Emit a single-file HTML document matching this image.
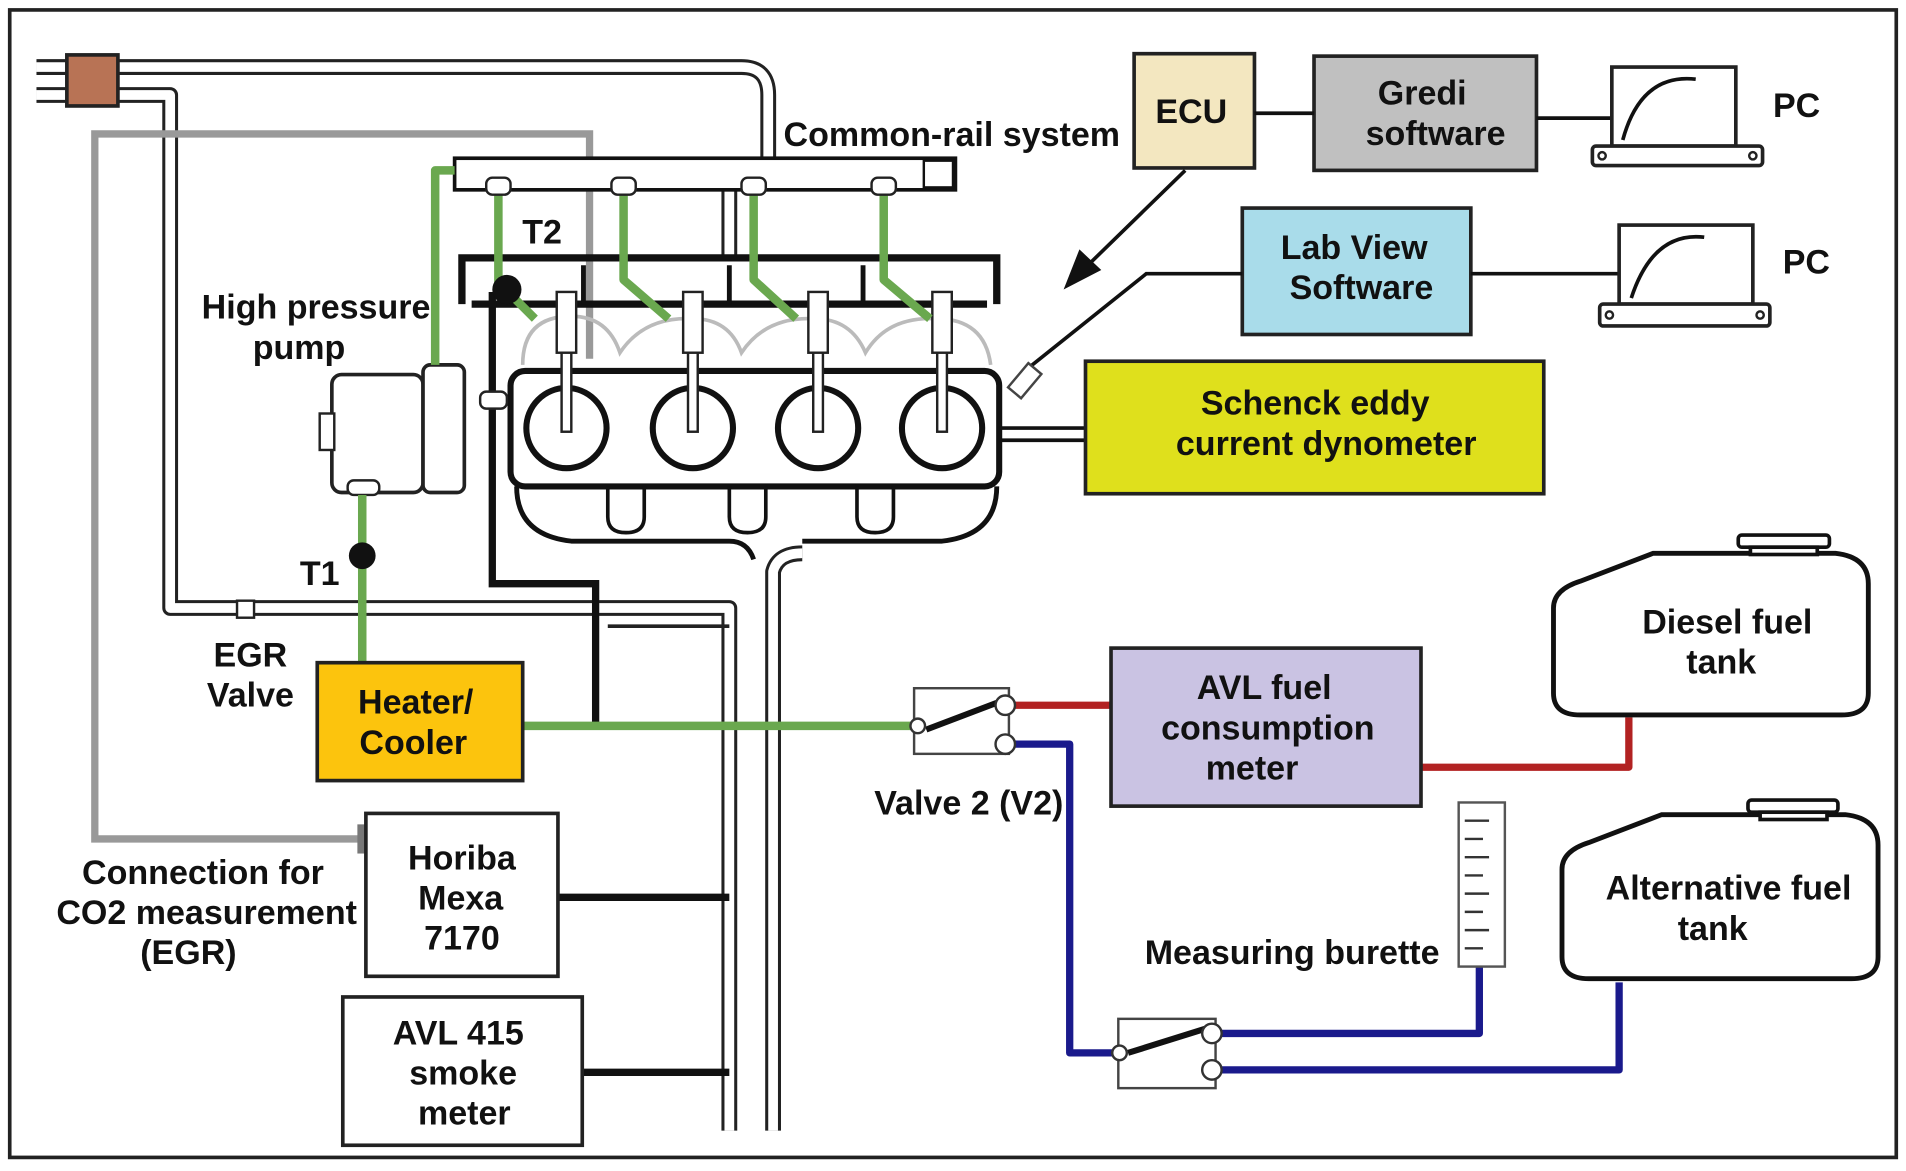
<!DOCTYPE html>
<html><head><meta charset="utf-8"><style>
html,body{margin:0;padding:0;background:#fff}
svg{display:block}
text{font-family:"Liberation Sans",Arial,sans-serif;font-weight:bold;font-size:28px;fill:#111}
</style></head><body>
<svg width="1906" height="1171" viewBox="0 0 1568 963" xmlns="http://www.w3.org/2000/svg">
<rect x="0" y="0" width="1568" height="963" fill="#fff"/>
<rect x="8" y="8" width="1552" height="944" fill="none" stroke="#222" stroke-width="3"/>

<g fill="none" stroke-linejoin="round">
<g stroke="#222" stroke-width="13">
<path d="M30,55 H610 Q632,55 632,78 V130"/>
<path d="M30,78 H140 V500 H600 V930"/>
<path d="M636,930 V470 Q640,455 660,455"/>
<path d="M600,156 V212"/>
</g>
<g stroke="#fff" stroke-width="8">
<path d="M30,55 H610 Q632,55 632,78 V130"/>
<path d="M30,78 H140 V500 H600 V930"/>
<path d="M636,930 V470 Q640,455 660,455"/>
<path d="M600,156 V212"/>
</g>
<path d="M500,515 H600" stroke="#222" stroke-width="3"/>
</g>
<rect x="55" y="45" width="42" height="42" fill="#b87355" stroke="#222" stroke-width="3"/>
<rect x="195" y="494" width="14" height="14" fill="#fff" stroke="#222" stroke-width="2"/>

<path d="M300,690 H78 V110 H485 V295" fill="none" stroke="#999" stroke-width="6"/>
<rect x="294" y="678" width="14" height="24" fill="#777"/>

<g fill="none" stroke="#111" stroke-width="6">
<path d="M405,240 V480 H490 V597"/>
<path d="M459,738 H600"/>
<path d="M479,882 H600"/>
</g>

<path d="M380,250 V212 H820 V250 M388,250 H812" fill="none" stroke="#111" stroke-width="6"/>
<path d="M480,218 V250 M600,218 V250 M710,218 V250" stroke="#111" stroke-width="4"/>
<path d="M430,300 Q430,260 470,260 Q500,260 510,290 Q530,260 570,262 Q600,262 610,290 Q630,260 670,262 Q700,262 712,290 Q730,260 770,262 Q810,262 815,300" fill="none" stroke="#bbb" stroke-width="3"/>
<rect x="420" y="305" width="402" height="95" rx="12" fill="#fff" stroke="#111" stroke-width="5"/>
<g fill="#fff" stroke="#111" stroke-width="5">
<circle cx="466" cy="352" r="33"/><circle cx="570" cy="352" r="33"/>
<circle cx="673" cy="352" r="33"/><circle cx="775" cy="352" r="33"/>
</g>
<path d="M425,400 Q425,440 470,445 H600 Q615,445 620,460 M820,400 Q820,440 775,445 H660" fill="none" stroke="#111" stroke-width="4"/>
<path d="M500,400 V425 Q500,438 515,438 Q530,438 530,425 V400 M600,400 V425 Q600,438 615,438 Q630,438 630,425 V400 M705,400 V425 Q705,438 720,438 Q735,438 735,425 V400" fill="none" stroke="#111" stroke-width="3"/>
<path d="M822,352 H893 M822,362 H893" stroke="#111" stroke-width="3"/>
<g fill="#fff" stroke="#222" stroke-width="2">
<rect x="458" y="240" width="16" height="50"/><rect x="562" y="240" width="16" height="50"/>
<rect x="665" y="240" width="16" height="50"/><rect x="767" y="240" width="16" height="50"/>
<rect x="462" y="290" width="8" height="65"/><rect x="566" y="290" width="8" height="65"/>
<rect x="669" y="290" width="8" height="65"/><rect x="771" y="290" width="8" height="65"/>
</g>

<rect x="273" y="308" width="75" height="97" rx="8" fill="#fff" stroke="#222" stroke-width="3"/>
<rect x="263" y="340" width="12" height="30" fill="#fff" stroke="#222" stroke-width="2"/>
<rect x="348" y="300" width="34" height="105" rx="6" fill="#fff" stroke="#222" stroke-width="3"/>
<rect x="395" y="322" width="22" height="14" rx="5" fill="#fff" stroke="#222" stroke-width="2"/>
<rect x="286" y="395" width="26" height="12" rx="5" fill="#fff" stroke="#222" stroke-width="2"/>

<rect x="374" y="130" width="412" height="26" fill="#fff" stroke="#111" stroke-width="3"/>
<rect x="760" y="132" width="24" height="22" fill="#fff" stroke="#111" stroke-width="2"/>

<g fill="none" stroke="#6aa84f" stroke-width="7" stroke-linejoin="round">
<path d="M358,300 V140 H374"/>
<path d="M410,156 V232 L440,262"/>
<path d="M513,156 V230 L550,262"/>
<path d="M620,156 V230 L655,262"/>
<path d="M727,156 V230 L765,262"/>
<path d="M298,407 V545"/>
<path d="M430,597 H760"/>
</g>
<g fill="#fff" stroke="#222" stroke-width="2">
<rect x="400" y="146" width="20" height="14" rx="5"/><rect x="503" y="146" width="20" height="14" rx="5"/>
<rect x="610" y="146" width="20" height="14" rx="5"/><rect x="717" y="146" width="20" height="14" rx="5"/>
</g>
<circle cx="298" cy="457" r="11" fill="#111"/>
<circle cx="417" cy="238" r="12" fill="#111"/>

<g fill="none" stroke-width="6" stroke-linejoin="round">
<path d="M828,580 H914" stroke="#b22222"/>
<path d="M1170,631 H1340 V590" stroke="#b22222"/>
<path d="M830,612 H880 V866 H918" stroke="#1a1a8c"/>
<path d="M1000,850 H1217 V790" stroke="#1a1a8c"/>
<path d="M1000,880 H1332 V808" stroke="#1a1a8c"/>
</g>

<rect x="752" y="566" width="78" height="54" fill="#fff" stroke="#444" stroke-width="2"/>
<line x1="762" y1="600" x2="820" y2="578" stroke="#111" stroke-width="5"/>
<circle cx="827" cy="580" r="8" fill="#fff" stroke="#333" stroke-width="2"/>
<circle cx="827" cy="612" r="8" fill="#fff" stroke="#333" stroke-width="2"/>
<circle cx="755" cy="597" r="6" fill="#fff" stroke="#333" stroke-width="2"/>
<rect x="920" y="838" width="80" height="57" fill="#fff" stroke="#444" stroke-width="2"/>
<line x1="928" y1="866" x2="992" y2="846" stroke="#111" stroke-width="5"/>
<circle cx="997" cy="850" r="8" fill="#fff" stroke="#333" stroke-width="2"/>
<circle cx="997" cy="880" r="8" fill="#fff" stroke="#333" stroke-width="2"/>
<circle cx="921" cy="866" r="6" fill="#fff" stroke="#333" stroke-width="2"/>

<rect x="1200" y="660" width="38" height="135" fill="#fff" stroke="#555" stroke-width="2"/>
<g stroke="#333" stroke-width="2">
<line x1="1205" y1="675" x2="1225" y2="675"/><line x1="1205" y1="690" x2="1220" y2="690"/>
<line x1="1205" y1="705" x2="1225" y2="705"/><line x1="1205" y1="720" x2="1220" y2="720"/>
<line x1="1205" y1="735" x2="1225" y2="735"/><line x1="1205" y1="750" x2="1220" y2="750"/>
<line x1="1205" y1="765" x2="1225" y2="765"/><line x1="1205" y1="780" x2="1220" y2="780"/>
</g>

<g stroke="#222" stroke-width="3">
<rect x="933" y="44" width="99" height="94" fill="#f3e7c0"/>
<rect x="1081" y="46" width="183" height="94" fill="#c0c0c0"/>
<rect x="1022" y="171" width="188" height="104" fill="#a9dcea"/>
<rect x="893" y="297" width="377" height="109" fill="#dfe01c"/>
<rect x="914" y="533" width="255" height="130" fill="#cac3e3"/>
<rect x="261" y="545" width="169" height="97" fill="#fcc40d"/>
<rect x="301" y="669" width="158" height="134" fill="#fff"/>
<rect x="282" y="820" width="197" height="122" fill="#fff"/>
</g>
<path d="M1032,93 H1081 M1264,97 H1326 M1210,225 H1332 M1022,225 H943 L843,305" fill="none" stroke="#111" stroke-width="3"/>
<path d="M975,140 L895,218" stroke="#111" stroke-width="3"/>
<path d="M875,238 L888,205 L906,222 Z" fill="#111"/>
<rect x="836" y="300" width="14" height="26" fill="#fff" stroke="#444" stroke-width="2" transform="rotate(40 843 313)"/>

<g fill="#fff" stroke="#222" stroke-width="3">
<rect x="1326" y="55" width="102" height="65"/>
<rect x="1310" y="120" width="140" height="16" rx="3"/>
<rect x="1332" y="185" width="110" height="65"/>
<rect x="1316" y="250" width="140" height="18" rx="3"/>
</g>
<path d="M1335,115 Q1350,60 1395,65 M1342,245 Q1360,190 1402,195" fill="none" stroke="#111" stroke-width="3"/>
<g fill="#fff" stroke="#222" stroke-width="2"><circle cx="1318" cy="128" r="3"/><circle cx="1442" cy="128" r="3"/><circle cx="1324" cy="259" r="3"/><circle cx="1448" cy="259" r="3"/></g>

<g fill="#fff" stroke="#111" stroke-width="4">
<path d="M1300,478 L1360,455 H1510 Q1537,458 1537,480 V570 Q1537,588 1515,588 H1300 Q1278,588 1278,570 V500 Q1278,485 1300,478 Z"/>
<path d="M1307,693 L1367,670 H1518 Q1545,673 1545,695 V787 Q1545,805 1523,805 H1307 Q1285,805 1285,787 V715 Q1285,700 1307,693 Z"/>
</g>
<g fill="#fff" stroke="#111" stroke-width="3">
<rect x="1430" y="440" width="75" height="10" rx="3"/><rect x="1440" y="450" width="55" height="6"/>
<rect x="1438" y="658" width="74" height="10" rx="3"/><rect x="1448" y="668" width="55" height="6"/>
</g>

<text x="980" y="101" text-anchor="middle">ECU</text>
<text x="1170" y="86" text-anchor="middle">Gredi</text>
<text x="1181" y="119" text-anchor="middle">software</text>
<text x="1478" y="96" text-anchor="middle">PC</text>
<text x="1486" y="225" text-anchor="middle">PC</text>
<text x="1114" y="213" text-anchor="middle">Lab View</text>
<text x="1120" y="246" text-anchor="middle">Software</text>
<text x="1082" y="341" text-anchor="middle">Schenck eddy</text>
<text x="1091" y="374" text-anchor="middle">current dynometer</text>
<text x="1040" y="575" text-anchor="middle">AVL fuel</text>
<text x="1043" y="608" text-anchor="middle">consumption</text>
<text x="1030" y="641" text-anchor="middle">meter</text>
<text x="1421" y="521" text-anchor="middle">Diesel fuel</text>
<text x="1416" y="554" text-anchor="middle">tank</text>
<text x="1422" y="740" text-anchor="middle">Alternative fuel</text>
<text x="1409" y="773" text-anchor="middle">tank</text>
<text x="783" y="120" text-anchor="middle">Common-rail system</text>
<text x="446" y="200" text-anchor="middle">T2</text>
<text x="260" y="262" text-anchor="middle">High pressure</text>
<text x="246" y="295" text-anchor="middle">pump</text>
<text x="263" y="481" text-anchor="middle">T1</text>
<text x="206" y="548" text-anchor="middle">EGR</text>
<text x="206" y="581" text-anchor="middle">Valve</text>
<text x="342" y="587" text-anchor="middle">Heater/</text>
<text x="340" y="620" text-anchor="middle">Cooler</text>
<text x="797" y="670" text-anchor="middle">Valve 2 (V2)</text>
<text x="1063" y="793" text-anchor="middle">Measuring burette</text>
<text x="380" y="715" text-anchor="middle">Horiba</text>
<text x="379" y="748" text-anchor="middle">Mexa</text>
<text x="380" y="781" text-anchor="middle">7170</text>
<text x="167" y="727" text-anchor="middle">Connection for</text>
<text x="170" y="760" text-anchor="middle">CO2 measurement</text>
<text x="155" y="793" text-anchor="middle">(EGR)</text>
<text x="377" y="859" text-anchor="middle">AVL 415</text>
<text x="381" y="892" text-anchor="middle">smoke</text>
<text x="382" y="925" text-anchor="middle">meter</text>
</svg>
</body></html>
